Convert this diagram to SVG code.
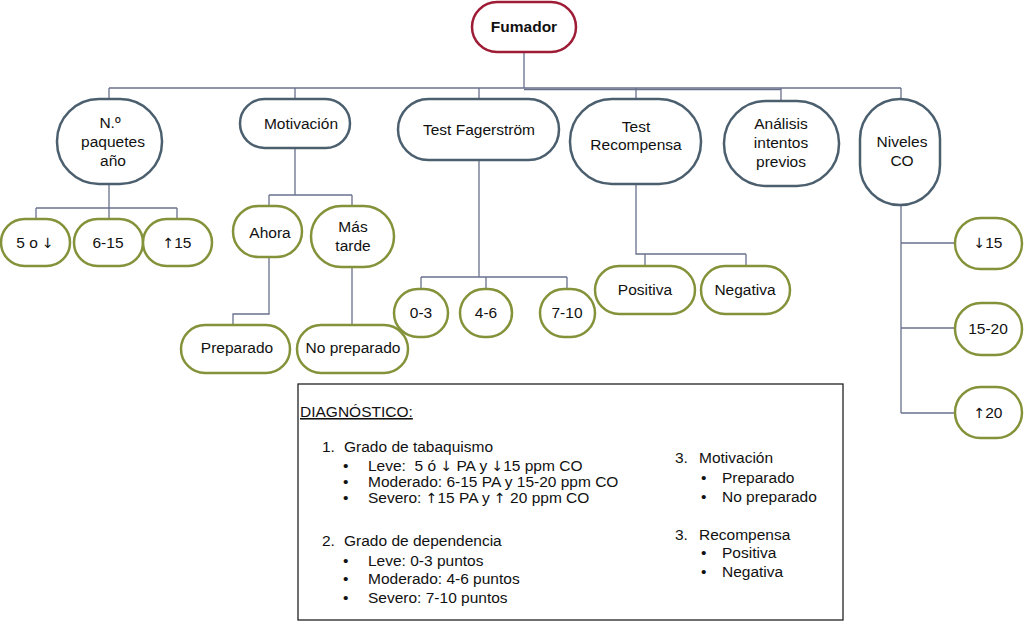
<svg xmlns="http://www.w3.org/2000/svg" width="1024" height="622" viewBox="0 0 1024 622">
<style>
text{font-family:"Liberation Sans",Arial,sans-serif;font-size:15.5px;fill:#111}
.c{text-anchor:middle}
.ar{font-family:"DejaVu Sans",sans-serif;font-size:14px}
.root{fill:#fff;stroke:#9e1c36;stroke-width:2.5}
.mid{fill:#fff;stroke:#4b5f6e;stroke-width:2.5}
.leaf{fill:#fff;stroke:#84923a;stroke-width:2.5}
.ln{fill:none;stroke:#68708c;stroke-width:1.3}
.box{fill:#fff;stroke:#222;stroke-width:1.3}
</style>
<rect width="1024" height="622" fill="#fff"/>
<g id="connectors">
<path class="ln" d="M524 52V88M109 88H901M109 88V99M295 88V99M479 88V99M636 88V99M781 88V101M901 88V99"/>
<path class="ln" d="M524 89.5H781"/>
<path class="ln" d="M109 184V208M36 208H177M36 208V219M109 208V219M177 208V219"/>
<path class="ln" d="M295 148V195M269 195H352M269 195V206M352 195V206"/>
<path class="ln" d="M269 257V314H233V325M352 267V325"/>
<path class="ln" d="M479 160V277M421 277H567M421 277V289M486 277V289M567 277V289"/>
<path class="ln" d="M636 184V254H746M645 254V266M746 254V266"/>
<path class="ln" d="M901 205V413M901 243H955M901 328H955M901 413H955"/>
</g>
<g id="fumador"><rect class="root" x="472" y="2" width="104" height="50" rx="25"/><text class="c" x="524" y="32" font-weight="bold">Fumador</text></g>
<g id="paquetes"><rect class="mid" x="57" y="99" width="105" height="85" rx="42"/><text class="c" x="110" y="128">N.º</text><text class="c" x="113" y="147">paquetes</text><text class="c" x="113" y="166">año</text></g>
<g id="motivacion"><rect class="mid" x="240" y="99" width="110" height="49" rx="24.5"/><text class="c" x="301" y="129">Motivación</text></g>
<g id="fagerstrom"><rect class="mid" x="398" y="99" width="161" height="61" rx="30.5"/><text class="c" x="479" y="135">Test Fagerström</text></g>
<g id="recompensa"><rect class="mid" x="570" y="99" width="131" height="85" rx="42"/><text class="c" x="636" y="132">Test</text><text class="c" x="636" y="150">Recompensa</text></g>
<g id="analisis"><rect class="mid" x="724" y="101" width="115" height="85" rx="42"/><text class="c" x="781" y="129">Análisis</text><text class="c" x="781" y="148">intentos</text><text class="c" x="781" y="167">previos</text></g>
<g id="niveles"><rect class="mid" x="860" y="99" width="80" height="106" rx="40"/><text class="c" x="902" y="147">Niveles</text><text class="c" x="902" y="166">CO</text></g>
<g id="p5"><rect class="leaf" x="1" y="219" width="69" height="47" rx="23.5"/><text class="c" x="35" y="248">5 o <tspan class="ar">↓</tspan></text></g>
<g id="p6"><rect class="leaf" x="74" y="219" width="69" height="47" rx="23.5"/><text class="c" x="108" y="248">6-15</text></g>
<g id="p15"><rect class="leaf" x="143" y="219" width="69" height="47" rx="23.5"/><text class="c" x="177" y="248"><tspan class="ar">↑</tspan>15</text></g>
<g id="ahora"><rect class="leaf" x="233" y="206" width="69" height="51" rx="25.5"/><text class="c" x="270" y="238">Ahora</text></g>
<g id="mastarde"><rect class="leaf" x="311" y="206" width="83" height="61" rx="30.5"/><text class="c" x="353" y="232">Más</text><text class="c" x="353" y="251">tarde</text></g>
<g id="preparado"><rect class="leaf" x="181" y="325" width="109" height="48" rx="24"/><text class="c" x="237" y="353">Preparado</text></g>
<g id="nopreparado"><rect class="leaf" x="297" y="325" width="111" height="48" rx="24"/><text class="c" x="353" y="353">No preparado</text></g>
<g id="f03"><rect class="leaf" x="394" y="289" width="54" height="48" rx="24"/><text class="c" x="421" y="318">0-3</text></g>
<g id="f46"><rect class="leaf" x="460" y="289" width="52" height="48" rx="24"/><text class="c" x="486" y="318">4-6</text></g>
<g id="f710"><rect class="leaf" x="540" y="289" width="55" height="48" rx="24"/><text class="c" x="567" y="318">7-10</text></g>
<g id="positiva"><rect class="leaf" x="595" y="266" width="100" height="48" rx="24"/><text class="c" x="645" y="295">Positiva</text></g>
<g id="negativa"><rect class="leaf" x="701" y="266" width="89" height="48" rx="24"/><text class="c" x="745" y="295">Negativa</text></g>
<g id="co15"><rect class="leaf" x="955" y="218" width="67" height="51" rx="25.5"/><text class="c" x="988" y="248"><tspan class="ar">↓</tspan>15</text></g>
<g id="co1520"><rect class="leaf" x="955" y="303" width="67" height="52" rx="26"/><text class="c" x="988" y="334">15-20</text></g>
<g id="co20"><rect class="leaf" x="955" y="387" width="67" height="51" rx="25.5"/><text class="c" x="988" y="418"><tspan class="ar">↑</tspan>20</text></g>
<g id="diagnostico">
<rect class="box" x="298" y="384" width="545" height="236"/>
<text x="300" y="417" text-decoration="underline">DIAGNÓSTICO:</text>
<text x="322" y="452">1.</text><text x="344" y="452">Grado de tabaquismo</text>
<text x="343" y="471">•</text><text x="368" y="471">Leve:&#160; 5 ó <tspan class="ar">↓</tspan> PA y <tspan class="ar">↓</tspan>15 ppm CO</text>
<text x="343" y="487">•</text><text x="368" y="487">Moderado: 6-15 PA y 15-20 ppm CO</text>
<text x="343" y="503">•</text><text x="368" y="503">Severo: <tspan class="ar">↑</tspan>15 PA y <tspan class="ar">↑</tspan> 20 ppm CO</text>
<text x="322" y="546">2.</text><text x="344" y="546">Grado de dependencia</text>
<text x="343" y="566">•</text><text x="368" y="566">Leve: 0-3 puntos</text>
<text x="343" y="584">•</text><text x="368" y="584">Moderado: 4-6 puntos</text>
<text x="343" y="603">•</text><text x="368" y="603">Severo: 7-10 puntos</text>
<text x="675" y="463">3.</text><text x="699" y="463">Motivación</text>
<text x="701" y="483">•</text><text x="722" y="483">Preparado</text>
<text x="701" y="502">•</text><text x="722" y="502">No preparado</text>
<text x="675" y="540">3.</text><text x="699" y="540">Recompensa</text>
<text x="701" y="558">•</text><text x="722" y="558">Positiva</text>
<text x="701" y="577">•</text><text x="722" y="577">Negativa</text>
</g>
</svg>
